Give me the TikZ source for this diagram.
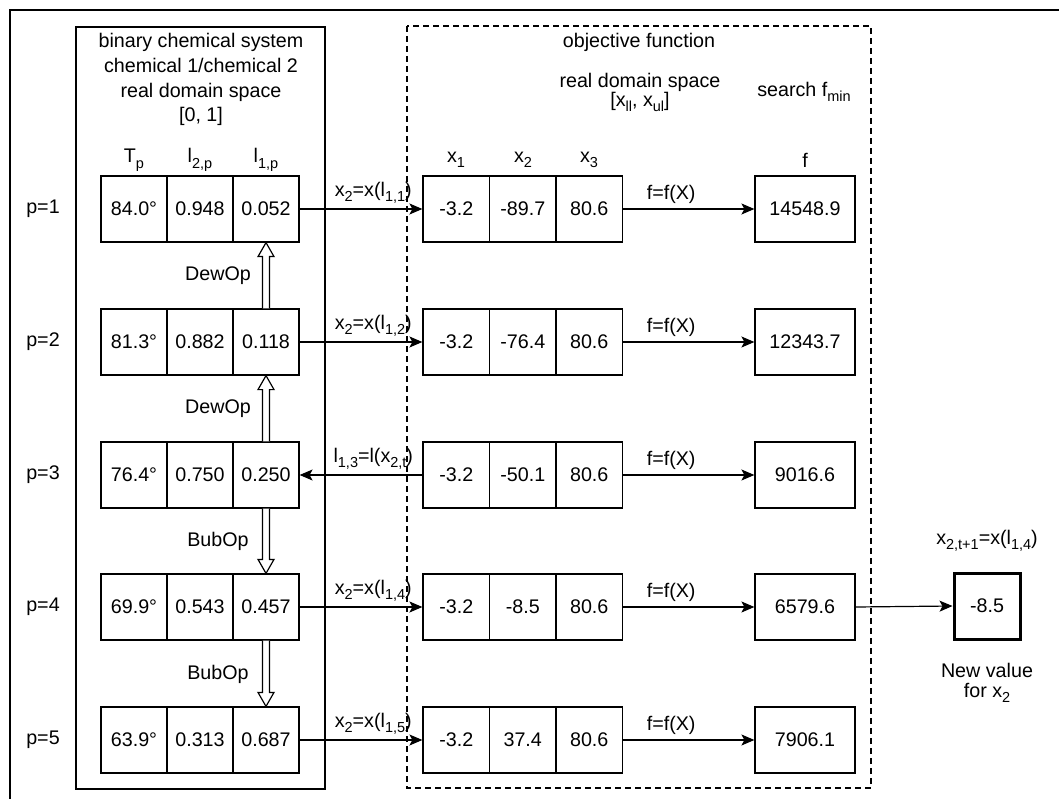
\documentclass[tikz,border=0pt]{standalone}
\usepackage{fontspec}
\setmainfont{Liberation Sans}
\usetikzlibrary{arrows.meta,calc}
\newcommand\sub[1]{\raisebox{-0.28em}{\fontsize{14.5}{14.5}\selectfont #1}}
\tikzset{
  every node/.style={font=\fontsize{19.7}{23.6}\selectfont, inner sep=0pt},
  cell/.style={draw, line width=1.2pt, minimum width=66pt, minimum height=66pt},
  xcell/.style={draw, line width=1.2pt, minimum width=66.5pt, minimum height=66pt},
  fcell/.style={draw, line width=1.2pt, minimum width=100pt, minimum height=66pt},
  newcell/.style={draw, line width=3pt, minimum width=66pt, minimum height=66pt},
  conn/.style={line width=1.2pt, -{Stealth[length=13pt,width=11pt,inset=3pt]}},
  hollow/.style={draw, line width=1.2pt, fill=white, line join=miter},
  panel/.style={draw, line width=1.2pt},
  dpanel/.style={draw, line width=1.2pt, dash pattern=on 6pt off 4pt},
}
\newcommand\hollowup[2]{%
  \draw[hollow] let \p1=(#1.north), \p2=(#2.south) in
    (\x1-3.5pt,\y1) -- (\x1-3.5pt,\y2-14pt) -- (\x1-8pt,\y2-14pt) -- (\x1,\y2)
    -- (\x1+8pt,\y2-14pt) -- (\x1+3.5pt,\y2-14pt) -- (\x1+3.5pt,\y1);}
\newcommand\hollowdown[2]{%
  \draw[hollow] let \p1=(#1.south), \p2=(#2.north) in
    (\x1-3.5pt,\y1) -- (\x1-3.5pt,\y2+14pt) -- (\x1-8pt,\y2+14pt) -- (\x1,\y2)
    -- (\x1+8pt,\y2+14pt) -- (\x1+3.5pt,\y2+14pt) -- (\x1+3.5pt,\y1);}
\begin{document}
\begin{tikzpicture}[x=1pt,y=-1pt]
\useasboundingbox (0,0) rectangle (1059,799);
% outer frame
\draw[line width=1.5pt] (10,799) -- (10,10) -- (1059,10);
% panels
\draw[panel] (76,27) rectangle (325,789);
\draw[dpanel] (407,26) rectangle (871,788);
% left panel headers
\node (h1) at (201,42) {binary chemical system};
\node (h2) at (201,65) {chemical 1/chemical 2};
\node (h3) at (201,92) {real domain space};
\node (h4) at (201,116) {[0, 1]};
\node (cT) at (134,160) {T\sub{p}};
\node (cA) at (200,160) {l\sub{2,p}};
\node (cB) at (266,160) {l\sub{1,p}};
% right panel headers
\node (o1) at (639,42) {objective function};
\node (o2) at (640,82) {real domain space};
\node (o3) at (640,102) {[x\sub{ll}, x\sub{ul}]};
\node (o4) at (804,92) {search f\sub{min}};
\node (cx1) at (456,160) {x\sub{1}};
\node (cx2) at (523,160) {x\sub{2}};
\node (cx3) at (589,160) {x\sub{3}};
\node (cf) at (805,160) {f};
% rows
\foreach \r/\y/\t/\a/\b/\xb/\f in {
  1/209/84.0°/0.948/0.052/-89.7/14548.9,
  2/342/81.3°/0.882/0.118/-76.4/12343.7,
  3/475/76.4°/0.750/0.250/-50.1/9016.6,
  4/607/69.9°/0.543/0.457/-8.5/6579.6,
  5/740/63.9°/0.313/0.687/37.4/7906.1}{
  \node (p\r) at (43,\y) {p=\r};
  \node[cell] (T\r) at (134,\y) {\t};
  \node[cell] (A\r) at (200,\y) {\a};
  \node[cell] (B\r) at (266,\y) {\b};
  \node[xcell] (XA\r) at (456.25,\y) {-3.2};
  \node[xcell] (XB\r) at (522.75,\y) {\xb};
  \node[xcell] (XC\r) at (589.25,\y) {80.6};
  \node[fcell] (F\r) at (805,\y) {\f};
  \draw[conn] (XC\r.east) -- (F\r.west) node[pos=0.366, yshift=15pt] {f=f(X)};
}
% connectors between panels
\draw[conn] (B1.east) -- (XA1.west) node[pos=0.6, yshift=16pt] {x\sub{2}=x(l\sub{1,1})};
\draw[conn] (B2.east) -- (XA2.west) node[pos=0.6, yshift=16pt] {x\sub{2}=x(l\sub{1,2})};
\draw[conn] (XA3.west) -- (B3.east) node[pos=0.4, yshift=16pt] {l\sub{1,3}=l(x\sub{2,t})};
\draw[conn] (B4.east) -- (XA4.west) node[pos=0.6, yshift=16pt] {x\sub{2}=x(l\sub{1,4})};
\draw[conn] (B5.east) -- (XA5.west) node[pos=0.6, yshift=16pt] {x\sub{2}=x(l\sub{1,5})};
% hollow arrows
\hollowup{B2}{B1}
\hollowup{B3}{B2}
\hollowdown{B3}{B4}
\hollowdown{B4}{B5}
\node (d1) at (218,276) {DewOp};
\node (d2) at (218,409) {DewOp};
\node (b1) at (218,541) {BubOp};
\node (b2) at (218,674) {BubOp};
% new value
\node[newcell] (N) at (987,606) {-8.5};
\node (nl) at (987,541) {x\sub{2,t+1}=x(l\sub{1,4})};
\node (nv1) at (987,670) {New value};
\node (nv2) at (987,693) {for x\sub{2}};
\draw[conn] (F4.east) -- (N.west);
\end{tikzpicture}
\end{document}
